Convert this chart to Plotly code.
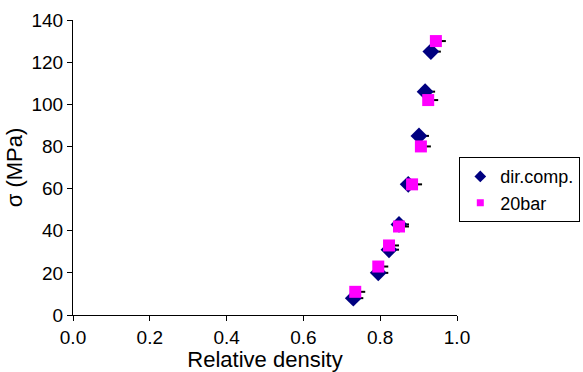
import plotly.graph_objects as go

dir_x = [0.730, 0.795, 0.823, 0.849, 0.873, 0.901, 0.917, 0.932]
dir_y = [8, 20, 31, 43, 62, 85, 106, 125]
bar_x = [0.735, 0.795, 0.823, 0.849, 0.883, 0.906, 0.925, 0.945]
bar_y = [11, 23, 33, 42, 62, 80, 102, 130]
err = 0.026

NAVY = "#000080"
MAGENTA = "#FF00FF"

fig = go.Figure()
fig.add_trace(go.Scatter(
    x=dir_x, y=dir_y, mode="markers", name="dir.comp.", showlegend=False,
    marker=dict(symbol="diamond", size=13, color=NAVY),
    error_x=dict(type="constant", symmetric=False, value=err, valueminus=0,
                 color="black", thickness=2, width=0),
))
fig.add_trace(go.Scatter(
    x=bar_x, y=bar_y, mode="markers", name="20bar", showlegend=False,
    marker=dict(symbol="square", size=12, color=MAGENTA),
    error_x=dict(type="constant", symmetric=False, value=err, valueminus=0,
                 color="black", thickness=2, width=0),
))
# legend entries (small symbols like the original)
fig.add_trace(go.Scatter(x=[None], y=[None], mode="markers", name="dir.comp.",
                         marker=dict(symbol="diamond", size=9, color=NAVY)))
fig.add_trace(go.Scatter(x=[None], y=[None], mode="markers", name="20bar",
                         marker=dict(symbol="square", size=7, color=MAGENTA)))

fam = "Liberation Sans, Arial, sans-serif"
fig.update_layout(
    width=583, height=372,
    margin=dict(l=73, r=126, t=20, b=57, autoexpand=False),
    paper_bgcolor="white", plot_bgcolor="white",
    font=dict(family=fam, size=19, color="black"),
    showlegend=True,
    legend=dict(x=1.006, y=0.535, xanchor="left", yanchor="top",
                bordercolor="black", borderwidth=1, bgcolor="white",
                font=dict(size=18), tracegroupgap=0),
    xaxis=dict(range=[0, 1.0], tickvals=[0, 0.2, 0.4, 0.6, 0.8, 1.0],
               tickformat=".1f", showgrid=False, zeroline=False,
               showline=True, linecolor="black", linewidth=1,
               ticks="outside", ticklen=5, tickcolor="black",
               title=dict(text="Relative density", font=dict(size=22), standoff=3),
               tickfont=dict(size=19)),
    yaxis=dict(range=[0, 140], tickvals=[0, 20, 40, 60, 80, 100, 120, 140],
               showgrid=False, zeroline=False,
               showline=True, linecolor="black", linewidth=1,
               ticks="outside", ticklen=5, tickcolor="black",
               title=dict(text="σ (MPa)", font=dict(size=22), standoff=2),
               tickfont=dict(size=19)),
)
fig.write_html("out.html")
